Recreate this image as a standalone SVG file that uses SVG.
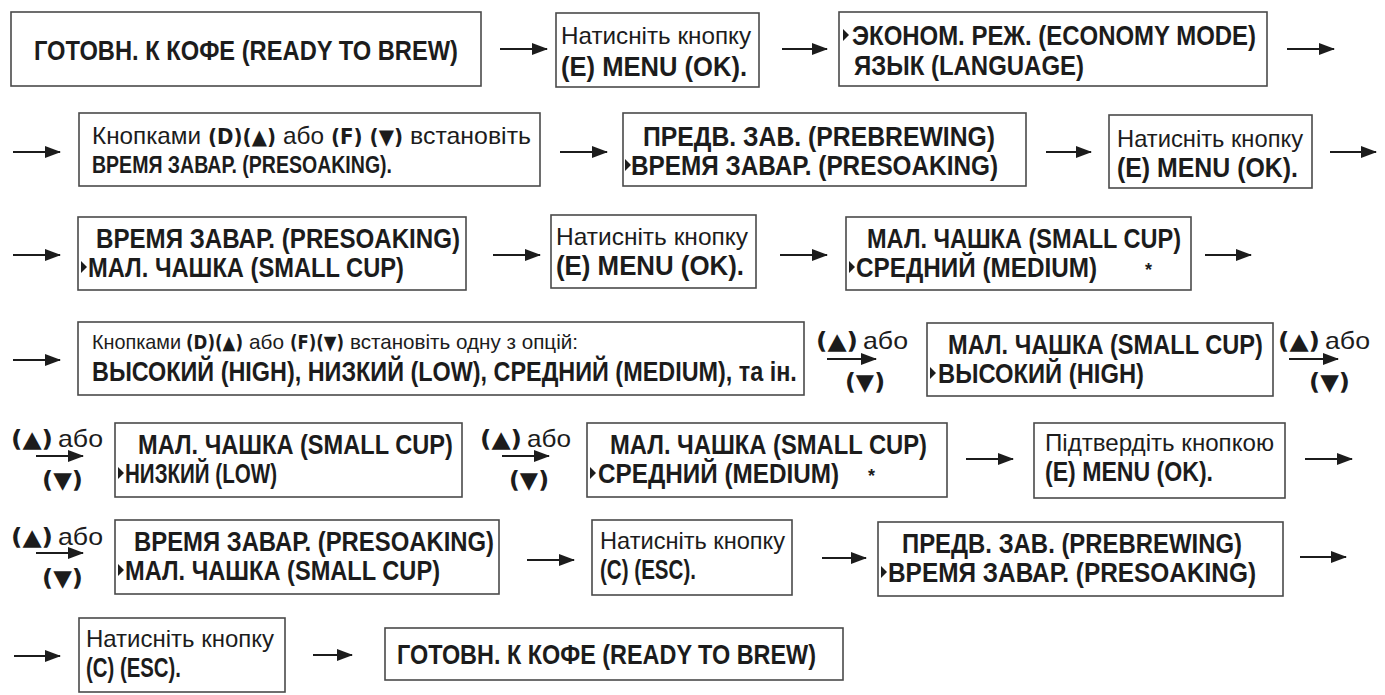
<svg xmlns="http://www.w3.org/2000/svg" width="1385" height="695" viewBox="0 0 1385 695">
<style>
  .box{fill:#fff;stroke:#4a4a4a;stroke-width:1.6}
  text{font-family:"Liberation Sans Narrow","Liberation Sans",Arial,sans-serif;fill:#1c1c1c}
  .b{font-weight:bold;font-size:27px}
  .b2{font-weight:bold;font-size:24px}
  .big{font-weight:bold;font-size:28px}
  .r{font-weight:normal;font-size:24px}
  .s{font-family:"DejaVu Sans","Liberation Sans",sans-serif;font-weight:bold;font-size:23px}
  .sm{font-weight:normal;font-size:21px}
  .sb{font-family:"DejaVu Sans","Liberation Sans",sans-serif;font-weight:bold;font-size:21px}
  .sb2{font-family:"DejaVu Sans","Liberation Sans",sans-serif;font-weight:bold;font-size:19px}
  .conn{stroke:#1c1c1c;stroke-width:1.8;fill:none;marker-end:url(#ah)}
  .ptr{fill:#1c1c1c}
</style>
<defs>
  <marker id="ah" markerUnits="userSpaceOnUse" markerWidth="16" markerHeight="12" refX="15" refY="6" orient="auto">
    <path d="M0,0 L16,6 L0,12 Z" fill="#1c1c1c"/>
  </marker>
  <path id="tri" d="M0,-6 L6,0 L0,6 Z"/>
</defs>
<rect width="1385" height="695" fill="#fff"/>

<g id="connectors">
  <line class="conn" x1="500" y1="49" x2="547" y2="49"/>
  <line class="conn" x1="782" y1="49" x2="827" y2="49"/>
  <line class="conn" x1="1287" y1="49" x2="1334" y2="49"/>
  <line class="conn" x1="13" y1="152" x2="60" y2="152"/>
  <line class="conn" x1="560" y1="152" x2="607" y2="152"/>
  <line class="conn" x1="1046" y1="152" x2="1091" y2="152"/>
  <line class="conn" x1="1330" y1="152" x2="1376" y2="152"/>
  <line class="conn" x1="13" y1="255" x2="60" y2="255"/>
  <line class="conn" x1="493" y1="255" x2="540" y2="255"/>
  <line class="conn" x1="780" y1="255" x2="827" y2="255"/>
  <line class="conn" x1="1205" y1="255" x2="1251" y2="255"/>
  <line class="conn" x1="13" y1="360" x2="60" y2="360"/>
  <line class="conn" x1="827" y1="359" x2="876" y2="359"/>
  <line class="conn" x1="1289" y1="359" x2="1338" y2="359"/>
  <line class="conn" x1="36" y1="456" x2="83" y2="456"/>
  <line class="conn" x1="502" y1="456" x2="549" y2="456"/>
  <line class="conn" x1="966" y1="459" x2="1013" y2="459"/>
  <line class="conn" x1="1305" y1="459" x2="1352" y2="459"/>
  <line class="conn" x1="36" y1="553" x2="83" y2="553"/>
  <line class="conn" x1="527" y1="560" x2="574" y2="560"/>
  <line class="conn" x1="822" y1="558" x2="866" y2="558"/>
  <line class="conn" x1="1300" y1="557" x2="1346" y2="557"/>
  <line class="conn" x1="14" y1="656" x2="60" y2="656"/>
  <line class="conn" x1="313" y1="655" x2="352" y2="655"/>
</g>

<g id="labels">
  <text x="816" y="349" class="s" textLength="42" lengthAdjust="spacingAndGlyphs">(▲)</text>
  <text x="863" y="349" class="r" textLength="45" lengthAdjust="spacingAndGlyphs">або</text>
  <text x="845" y="390" class="s" textLength="40" lengthAdjust="spacingAndGlyphs">(▼)</text>

  <text x="1278" y="349" class="s" textLength="42" lengthAdjust="spacingAndGlyphs">(▲)</text>
  <text x="1325" y="349" class="r" textLength="45" lengthAdjust="spacingAndGlyphs">або</text>
  <text x="1309" y="390" class="s" textLength="41" lengthAdjust="spacingAndGlyphs">(▼)</text>

  <text x="11" y="447" class="s" textLength="42" lengthAdjust="spacingAndGlyphs">(▲)</text>
  <text x="58" y="447" class="r" textLength="45" lengthAdjust="spacingAndGlyphs">або</text>
  <text x="42" y="488" class="s" textLength="41" lengthAdjust="spacingAndGlyphs">(▼)</text>

  <text x="480" y="447" class="s" textLength="42" lengthAdjust="spacingAndGlyphs">(▲)</text>
  <text x="527" y="447" class="r" textLength="44" lengthAdjust="spacingAndGlyphs">або</text>
  <text x="509" y="488" class="s" textLength="40" lengthAdjust="spacingAndGlyphs">(▼)</text>

  <text x="11" y="545" class="s" textLength="42" lengthAdjust="spacingAndGlyphs">(▲)</text>
  <text x="58" y="545" class="r" textLength="45" lengthAdjust="spacingAndGlyphs">або</text>
  <text x="42" y="586" class="s" textLength="41" lengthAdjust="spacingAndGlyphs">(▼)</text>
</g>

<g id="n1">
  <rect class="box" x="11" y="12" width="470" height="74"/>
  <text x="34" y="60" class="big" textLength="424" lengthAdjust="spacingAndGlyphs">ГОТОВН. К КОФЕ (READY TO BREW)</text>
</g>
<g id="n2">
  <rect class="box" x="556" y="13" width="203" height="74"/>
  <text x="561" y="44" class="r" textLength="190" lengthAdjust="spacingAndGlyphs">Натисніть кнопку</text>
  <text x="561" y="76" class="b" textLength="186" lengthAdjust="spacingAndGlyphs">(E) MENU (OK).</text>
</g>
<g id="n3">
  <rect class="box" x="839" y="12" width="428" height="74"/>
  <use href="#tri" class="ptr" x="843" y="35"/>
  <text x="852" y="45" class="b" textLength="404" lengthAdjust="spacingAndGlyphs">ЭКОНОМ. РЕЖ. (ECONOMY MODE)</text>
  <text x="854" y="75" class="b" textLength="230" lengthAdjust="spacingAndGlyphs">ЯЗЫК (LANGUAGE)</text>
</g>
<g id="n4">
  <rect class="box" x="79" y="113" width="461" height="73"/>
  <text x="92" y="144" class="r" textLength="109" lengthAdjust="spacingAndGlyphs">Кнопками</text>
  <text x="208" y="144" class="sb" textLength="68" lengthAdjust="spacingAndGlyphs">(D)(▲)</text>
  <text x="283" y="144" class="r" textLength="41" lengthAdjust="spacingAndGlyphs">або</text>
  <text x="331" y="144" class="sb" textLength="72" lengthAdjust="spacingAndGlyphs">(F) (▼)</text>
  <text x="410" y="144" class="r" textLength="121" lengthAdjust="spacingAndGlyphs">встановіть</text>
  <text x="92" y="173" class="b2" textLength="300" lengthAdjust="spacingAndGlyphs">ВРЕМЯ ЗАВАР. (PRESOAKING).</text>
</g>
<g id="n5">
  <rect class="box" x="623" y="113" width="403" height="73"/>
  <text x="643" y="146" class="b" textLength="352" lengthAdjust="spacingAndGlyphs">ПРЕДВ. ЗАВ. (PREBREWING)</text>
  <use href="#tri" class="ptr" x="625" y="165"/>
  <text x="631" y="175" class="b" textLength="367" lengthAdjust="spacingAndGlyphs">ВРЕМЯ ЗАВАР. (PRESOAKING)</text>
</g>
<g id="n6">
  <rect class="box" x="1109" y="115" width="203" height="73"/>
  <text x="1117" y="147" class="r" textLength="186" lengthAdjust="spacingAndGlyphs">Натисніть кнопку</text>
  <text x="1117" y="177" class="b" textLength="181" lengthAdjust="spacingAndGlyphs">(E) MENU (OK).</text>
</g>
<g id="n7">
  <rect class="box" x="78" y="217" width="388" height="73"/>
  <text x="96" y="248" class="b" textLength="364" lengthAdjust="spacingAndGlyphs">ВРЕМЯ ЗАВАР. (PRESOAKING)</text>
  <use href="#tri" class="ptr" x="81" y="267"/>
  <text x="88" y="277" class="b" textLength="316" lengthAdjust="spacingAndGlyphs">МАЛ. ЧАШКА (SMALL CUP)</text>
</g>
<g id="n8">
  <rect class="box" x="551" y="215" width="205" height="73"/>
  <text x="556" y="245" class="r" textLength="192" lengthAdjust="spacingAndGlyphs">Натисніть кнопку</text>
  <text x="556" y="275" class="b" textLength="188" lengthAdjust="spacingAndGlyphs">(E) MENU (OK).</text>
</g>
<g id="n9">
  <rect class="box" x="846" y="217" width="345" height="73"/>
  <text x="867" y="248" class="b" textLength="314" lengthAdjust="spacingAndGlyphs">МАЛ. ЧАШКА (SMALL CUP)</text>
  <use href="#tri" class="ptr" x="849" y="267"/>
  <text x="856" y="277" class="b" textLength="241" lengthAdjust="spacingAndGlyphs">СРЕДНИЙ (MEDIUM)</text>
  <text x="1145" y="276" class="b" style="font-size:18px">*</text>
</g>
<g id="n10">
  <rect class="box" x="78" y="322" width="726" height="73"/>
  <text x="92" y="349" class="sm" textLength="89" lengthAdjust="spacingAndGlyphs">Кнопками</text>
  <text x="186" y="349" class="sb2" textLength="57" lengthAdjust="spacingAndGlyphs">(D)(▲)</text>
  <text x="249" y="349" class="sm" textLength="35" lengthAdjust="spacingAndGlyphs">або</text>
  <text x="290" y="349" class="sb2" textLength="54" lengthAdjust="spacingAndGlyphs">(F)(▼)</text>
  <text x="350" y="349" class="sm" textLength="228" lengthAdjust="spacingAndGlyphs">встановіть одну з опцій:</text>
  <text transform="translate(92,381) scale(0.88,1)" class="b" textLength="801" lengthAdjust="spacingAndGlyphs">ВЫСОКИЙ (HIGH), НИЗКИЙ (LOW), СРЕДНИЙ (MEDIUM), та ін.</text>
</g>
<g id="n11">
  <rect class="box" x="927" y="323" width="346" height="73"/>
  <text transform="translate(948,354) scale(0.87,1)" class="b" textLength="362" lengthAdjust="spacingAndGlyphs">МАЛ. ЧАШКА (SMALL CUP)</text>
  <use href="#tri" class="ptr" x="930" y="373"/>
  <text x="938" y="383" class="b" textLength="206" lengthAdjust="spacingAndGlyphs">ВЫСОКИЙ (HIGH)</text>
</g>
<g id="n12">
  <rect class="box" x="115" y="423" width="347" height="74"/>
  <text transform="translate(138,454) scale(0.87,1)" class="b" textLength="362" lengthAdjust="spacingAndGlyphs">МАЛ. ЧАШКА (SMALL CUP)</text>
  <use href="#tri" class="ptr" x="118" y="473"/>
  <text x="125" y="483" class="b" textLength="152" lengthAdjust="spacingAndGlyphs">НИЗКИЙ (LOW)</text>
</g>
<g id="n13">
  <rect class="box" x="587" y="423" width="360" height="74"/>
  <text x="610" y="454" class="b" textLength="317" lengthAdjust="spacingAndGlyphs">МАЛ. ЧАШКА (SMALL CUP)</text>
  <use href="#tri" class="ptr" x="590" y="473"/>
  <text x="598" y="483" class="b" textLength="241" lengthAdjust="spacingAndGlyphs">СРЕДНИЙ (MEDIUM)</text>
  <text x="868" y="482" class="b" style="font-size:18px">*</text>
</g>
<g id="n14">
  <rect class="box" x="1034" y="423" width="251" height="75"/>
  <text x="1045" y="451" class="r" textLength="229" lengthAdjust="spacingAndGlyphs">Підтвердіть кнопкою</text>
  <text x="1045" y="481" class="b" textLength="168" lengthAdjust="spacingAndGlyphs">(E) MENU (OK).</text>
</g>
<g id="n15">
  <rect class="box" x="115" y="520" width="384" height="74"/>
  <text x="134" y="551" class="b" textLength="360" lengthAdjust="spacingAndGlyphs">ВРЕМЯ ЗАВАР. (PRESOAKING)</text>
  <use href="#tri" class="ptr" x="118" y="570"/>
  <text x="125" y="580" class="b" textLength="315" lengthAdjust="spacingAndGlyphs">МАЛ. ЧАШКА (SMALL CUP)</text>
</g>
<g id="n16">
  <rect class="box" x="592" y="520" width="200" height="75"/>
  <text x="600" y="549" class="r" textLength="185" lengthAdjust="spacingAndGlyphs">Натисніть кнопку</text>
  <text x="600" y="579" class="b" textLength="96" lengthAdjust="spacingAndGlyphs">(C) (ESC).</text>
</g>
<g id="n17">
  <rect class="box" x="878" y="522" width="405" height="74"/>
  <text x="902" y="553" class="b" textLength="340" lengthAdjust="spacingAndGlyphs">ПРЕДВ. ЗАВ. (PREBREWING)</text>
  <use href="#tri" class="ptr" x="881" y="572"/>
  <text x="888" y="582" class="b" textLength="368" lengthAdjust="spacingAndGlyphs">ВРЕМЯ ЗАВАР. (PRESOAKING)</text>
</g>
<g id="n18">
  <rect class="box" x="79" y="618" width="206" height="74"/>
  <text x="86" y="647" class="r" textLength="188" lengthAdjust="spacingAndGlyphs">Натисніть кнопку</text>
  <text x="86" y="677" class="b" textLength="95" lengthAdjust="spacingAndGlyphs">(C) (ESC).</text>
</g>
<g id="n19">
  <rect class="box" x="385" y="628" width="458" height="52"/>
  <text x="397" y="664" class="big" textLength="419" lengthAdjust="spacingAndGlyphs">ГОТОВН. К КОФЕ (READY TO BREW)</text>
</g>
</svg>
